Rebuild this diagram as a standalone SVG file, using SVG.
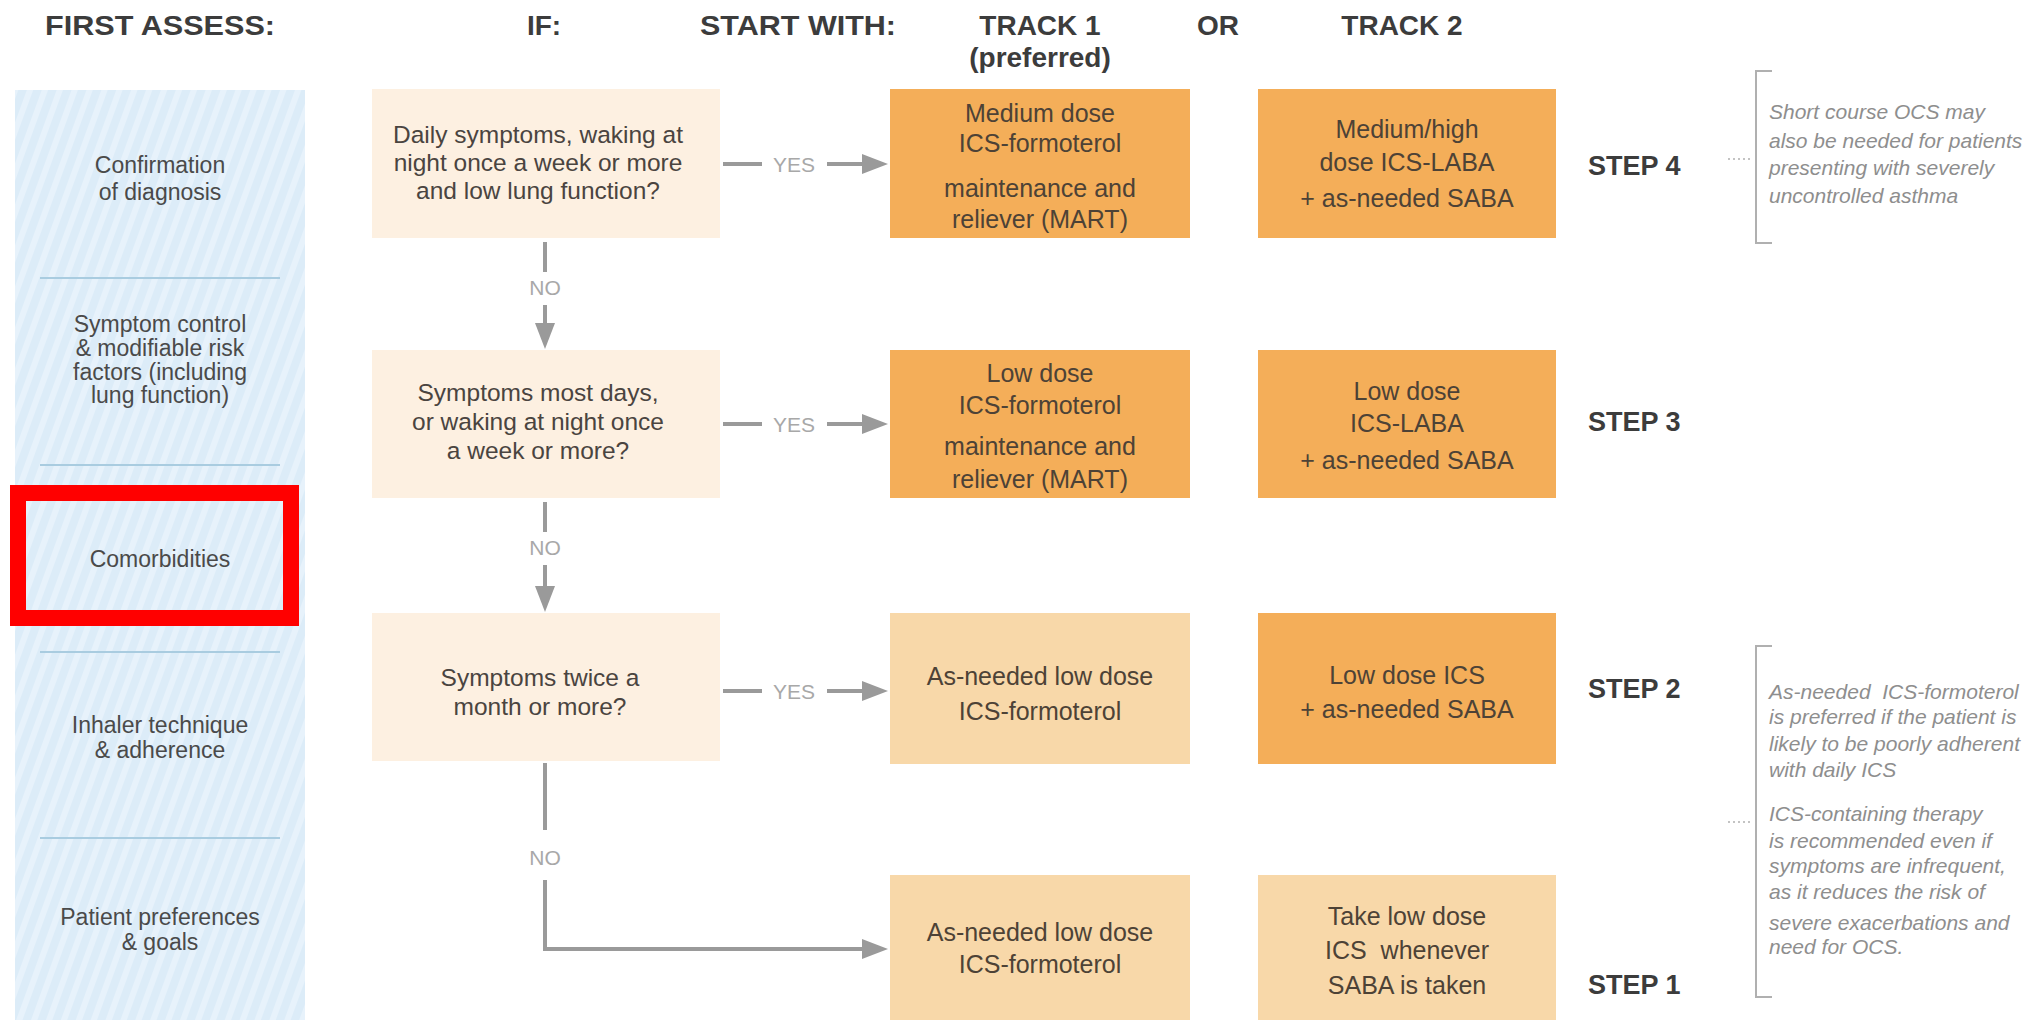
<svg xmlns="http://www.w3.org/2000/svg" width="2032" height="1020" viewBox="0 0 2032 1020">
<defs>
<pattern id="stripes" width="14" height="14" patternUnits="userSpaceOnUse" patternTransform="rotate(20)">
<rect width="14" height="14" fill="#dcecf8"/>
<rect width="6" height="14" fill="#e7f2fb"/>
</pattern>
<marker id="ah" viewBox="0 0 10 10" refX="0" refY="5" markerWidth="26" markerHeight="20" markerUnits="userSpaceOnUse" orient="auto" preserveAspectRatio="none">
<path d="M0,0 L10,5 L0,10 z" fill="#9a9a9a"/>
</marker>
<style>
.hdr{font-family:"Liberation Sans",Arial,sans-serif;font-weight:bold;font-size:28px;fill:#3c3c3c;text-anchor:middle}
.step{font-family:"Liberation Sans",Arial,sans-serif;font-weight:bold;font-size:27px;fill:#3c3c3c}
.lt{font-family:"Liberation Sans",Arial,sans-serif;font-size:23px;fill:#4a4a4a;text-anchor:middle}
.qt{font-family:"Liberation Sans",Arial,sans-serif;font-size:24.5px;fill:#4a4440;text-anchor:middle}
.tt{font-family:"Liberation Sans",Arial,sans-serif;font-size:25px;fill:#4d4236;text-anchor:middle}
.lab{font-family:"Liberation Sans",Arial,sans-serif;font-size:21px;fill:#a8a8a8;text-anchor:middle}
.note{font-family:"Liberation Sans",Arial,sans-serif;font-style:italic;font-size:21px;fill:#8e8e8e}
.q{fill:#fdf0e1}
.dark{fill:#f4ae59}
.light{fill:#f8d8a9}
.sep{stroke:#a9cce0;stroke-width:2}
.con{stroke:#9a9a9a;stroke-width:4;fill:none}
.brk{stroke:#b0b0b0;stroke-width:2;fill:none}
.dots{stroke:#b0b0b0;stroke-width:1.5;stroke-dasharray:2 3}
</style>
</defs>
<rect width="2032" height="1020" fill="#ffffff"/>

<g id="headers">
<text class="hdr" x="160" y="35" textLength="230" lengthAdjust="spacingAndGlyphs">FIRST ASSESS:</text>
<text class="hdr" x="544" y="35">IF:</text>
<text class="hdr" x="798" y="35" textLength="196" lengthAdjust="spacingAndGlyphs">START WITH:</text>
<text class="hdr" x="1040" y="35">TRACK 1</text>
<text class="hdr" x="1040" y="67">(preferred)</text>
<text class="hdr" x="1218" y="35">OR</text>
<text class="hdr" x="1402" y="35">TRACK 2</text>
</g>

<g id="assess-panel">
<rect x="15" y="90" width="290" height="935" fill="url(#stripes)"/>
<line class="sep" x1="40" y1="278" x2="280" y2="278"/>
<line class="sep" x1="40" y1="465" x2="280" y2="465"/>
<line class="sep" x1="40" y1="652" x2="280" y2="652"/>
<line class="sep" x1="40" y1="838" x2="280" y2="838"/>
<text class="lt" x="160" y="173">Confirmation</text>
<text class="lt" x="160" y="200">of diagnosis</text>
<text class="lt" x="160" y="332">Symptom control</text>
<text class="lt" x="160" y="356">&amp; modifiable risk</text>
<text class="lt" x="160" y="380">factors (including</text>
<text class="lt" x="160" y="403">lung function)</text>
<text class="lt" x="160" y="567">Comorbidities</text>
<text class="lt" x="160" y="733">Inhaler technique</text>
<text class="lt" x="160" y="758">&amp; adherence</text>
<text class="lt" x="160" y="925">Patient preferences</text>
<text class="lt" x="160" y="950">&amp; goals</text>
<rect x="18" y="493" width="273" height="125" fill="none" stroke="#ff0000" stroke-width="16"/>
</g>

<g id="q1">
<rect class="q" x="372" y="89" width="348" height="149"/>
<text class="qt" x="538" y="143">Daily symptoms, waking at</text>
<text class="qt" x="538" y="171">night once a week or more</text>
<text class="qt" x="538" y="199">and low lung function?</text>
</g>
<g id="q2">
<rect class="q" x="372" y="350" width="348" height="148"/>
<text class="qt" x="538" y="401">Symptoms most days,</text>
<text class="qt" x="538" y="430">or waking at night once</text>
<text class="qt" x="538" y="459">a week or more?</text>
</g>
<g id="q3">
<rect class="q" x="372" y="613" width="348" height="148"/>
<text class="qt" x="540" y="686">Symptoms twice a</text>
<text class="qt" x="540" y="715">month or more?</text>
</g>

<g id="t1-step4">
<rect class="dark" x="890" y="89" width="300" height="149"/>
<text class="tt" x="1040" y="122">Medium dose</text>
<text class="tt" x="1040" y="152">ICS-formoterol</text>
<text class="tt" x="1040" y="197">maintenance and</text>
<text class="tt" x="1040" y="228">reliever (MART)</text>
</g>
<g id="t2-step4">
<rect class="dark" x="1258" y="89" width="298" height="149"/>
<text class="tt" x="1407" y="138">Medium/high</text>
<text class="tt" x="1407" y="171">dose ICS-LABA</text>
<text class="tt" x="1407" y="207">+ as-needed SABA</text>
</g>
<g id="t1-step3">
<rect class="dark" x="890" y="350" width="300" height="148"/>
<text class="tt" x="1040" y="382">Low dose</text>
<text class="tt" x="1040" y="414">ICS-formoterol</text>
<text class="tt" x="1040" y="455">maintenance and</text>
<text class="tt" x="1040" y="488">reliever (MART)</text>
</g>
<g id="t2-step3">
<rect class="dark" x="1258" y="350" width="298" height="148"/>
<text class="tt" x="1407" y="400">Low dose</text>
<text class="tt" x="1407" y="432">ICS-LABA</text>
<text class="tt" x="1407" y="469">+ as-needed SABA</text>
</g>
<g id="t1-step2">
<rect class="light" x="890" y="613" width="300" height="151"/>
<text class="tt" x="1040" y="685">As-needed low dose</text>
<text class="tt" x="1040" y="720">ICS-formoterol</text>
</g>
<g id="t2-step2">
<rect class="dark" x="1258" y="613" width="298" height="151"/>
<text class="tt" x="1407" y="684">Low dose ICS</text>
<text class="tt" x="1407" y="718">+ as-needed SABA</text>
</g>
<g id="t1-step1">
<rect class="light" x="890" y="875" width="300" height="150"/>
<text class="tt" x="1040" y="941">As-needed low dose</text>
<text class="tt" x="1040" y="973">ICS-formoterol</text>
</g>
<g id="t2-step1">
<rect class="light" x="1258" y="875" width="298" height="150"/>
<text class="tt" x="1407" y="925">Take low dose</text>
<text class="tt" x="1407" y="959" xml:space="preserve">ICS  whenever</text>
<text class="tt" x="1407" y="994">SABA is taken</text>
</g>

<g id="steps">
<text class="step" x="1588" y="175">STEP 4</text>
<text class="step" x="1588" y="431">STEP 3</text>
<text class="step" x="1588" y="698">STEP 2</text>
<text class="step" x="1588" y="994">STEP 1</text>
</g>

<g id="note1">
<line class="dots" x1="1728" y1="159" x2="1750" y2="159"/>
<path class="brk" d="M1772,71 H1756 V243 H1772"/>
<text class="note" x="1769" y="119">Short course OCS may</text>
<text class="note" x="1769" y="148">also be needed for patients</text>
<text class="note" x="1769" y="175">presenting with severely</text>
<text class="note" x="1769" y="203">uncontrolled asthma</text>
</g>
<g id="note2">
<line class="dots" x1="1728" y1="822" x2="1750" y2="822"/>
<path class="brk" d="M1772,646 H1756 V997 H1772"/>
<text class="note" x="1769" y="699" xml:space="preserve">As-needed  ICS-formoterol</text>
<text class="note" x="1769" y="724">is preferred if the patient is</text>
<text class="note" x="1769" y="751">likely to be poorly adherent</text>
<text class="note" x="1769" y="777">with daily ICS</text>
<text class="note" x="1769" y="821">ICS-containing therapy</text>
<text class="note" x="1769" y="848">is recommended even if</text>
<text class="note" x="1769" y="873">symptoms are infrequent,</text>
<text class="note" x="1769" y="899">as it reduces the risk of</text>
<text class="note" x="1769" y="930">severe exacerbations and</text>
<text class="note" x="1769" y="954">need for OCS.</text>
</g>

<g id="connectors">
<line class="con" x1="723" y1="164" x2="762" y2="164"/>
<text class="lab" x="794" y="172">YES</text>
<line class="con" x1="827" y1="164" x2="862" y2="164" marker-end="url(#ah)"/>
<line class="con" x1="723" y1="424" x2="762" y2="424"/>
<text class="lab" x="794" y="432">YES</text>
<line class="con" x1="827" y1="424" x2="862" y2="424" marker-end="url(#ah)"/>
<line class="con" x1="723" y1="691" x2="762" y2="691"/>
<text class="lab" x="794" y="699">YES</text>
<line class="con" x1="827" y1="691" x2="862" y2="691" marker-end="url(#ah)"/>
<line class="con" x1="545" y1="242" x2="545" y2="272"/>
<text class="lab" x="545" y="295">NO</text>
<line class="con" x1="545" y1="305" x2="545" y2="323" marker-end="url(#ah)"/>
<line class="con" x1="545" y1="502" x2="545" y2="532"/>
<text class="lab" x="545" y="555">NO</text>
<line class="con" x1="545" y1="565" x2="545" y2="586" marker-end="url(#ah)"/>
<line class="con" x1="545" y1="763" x2="545" y2="830"/>
<text class="lab" x="545" y="865">NO</text>
<path class="con" d="M545,880 V949 H862" marker-end="url(#ah)"/>
</g>
</svg>
